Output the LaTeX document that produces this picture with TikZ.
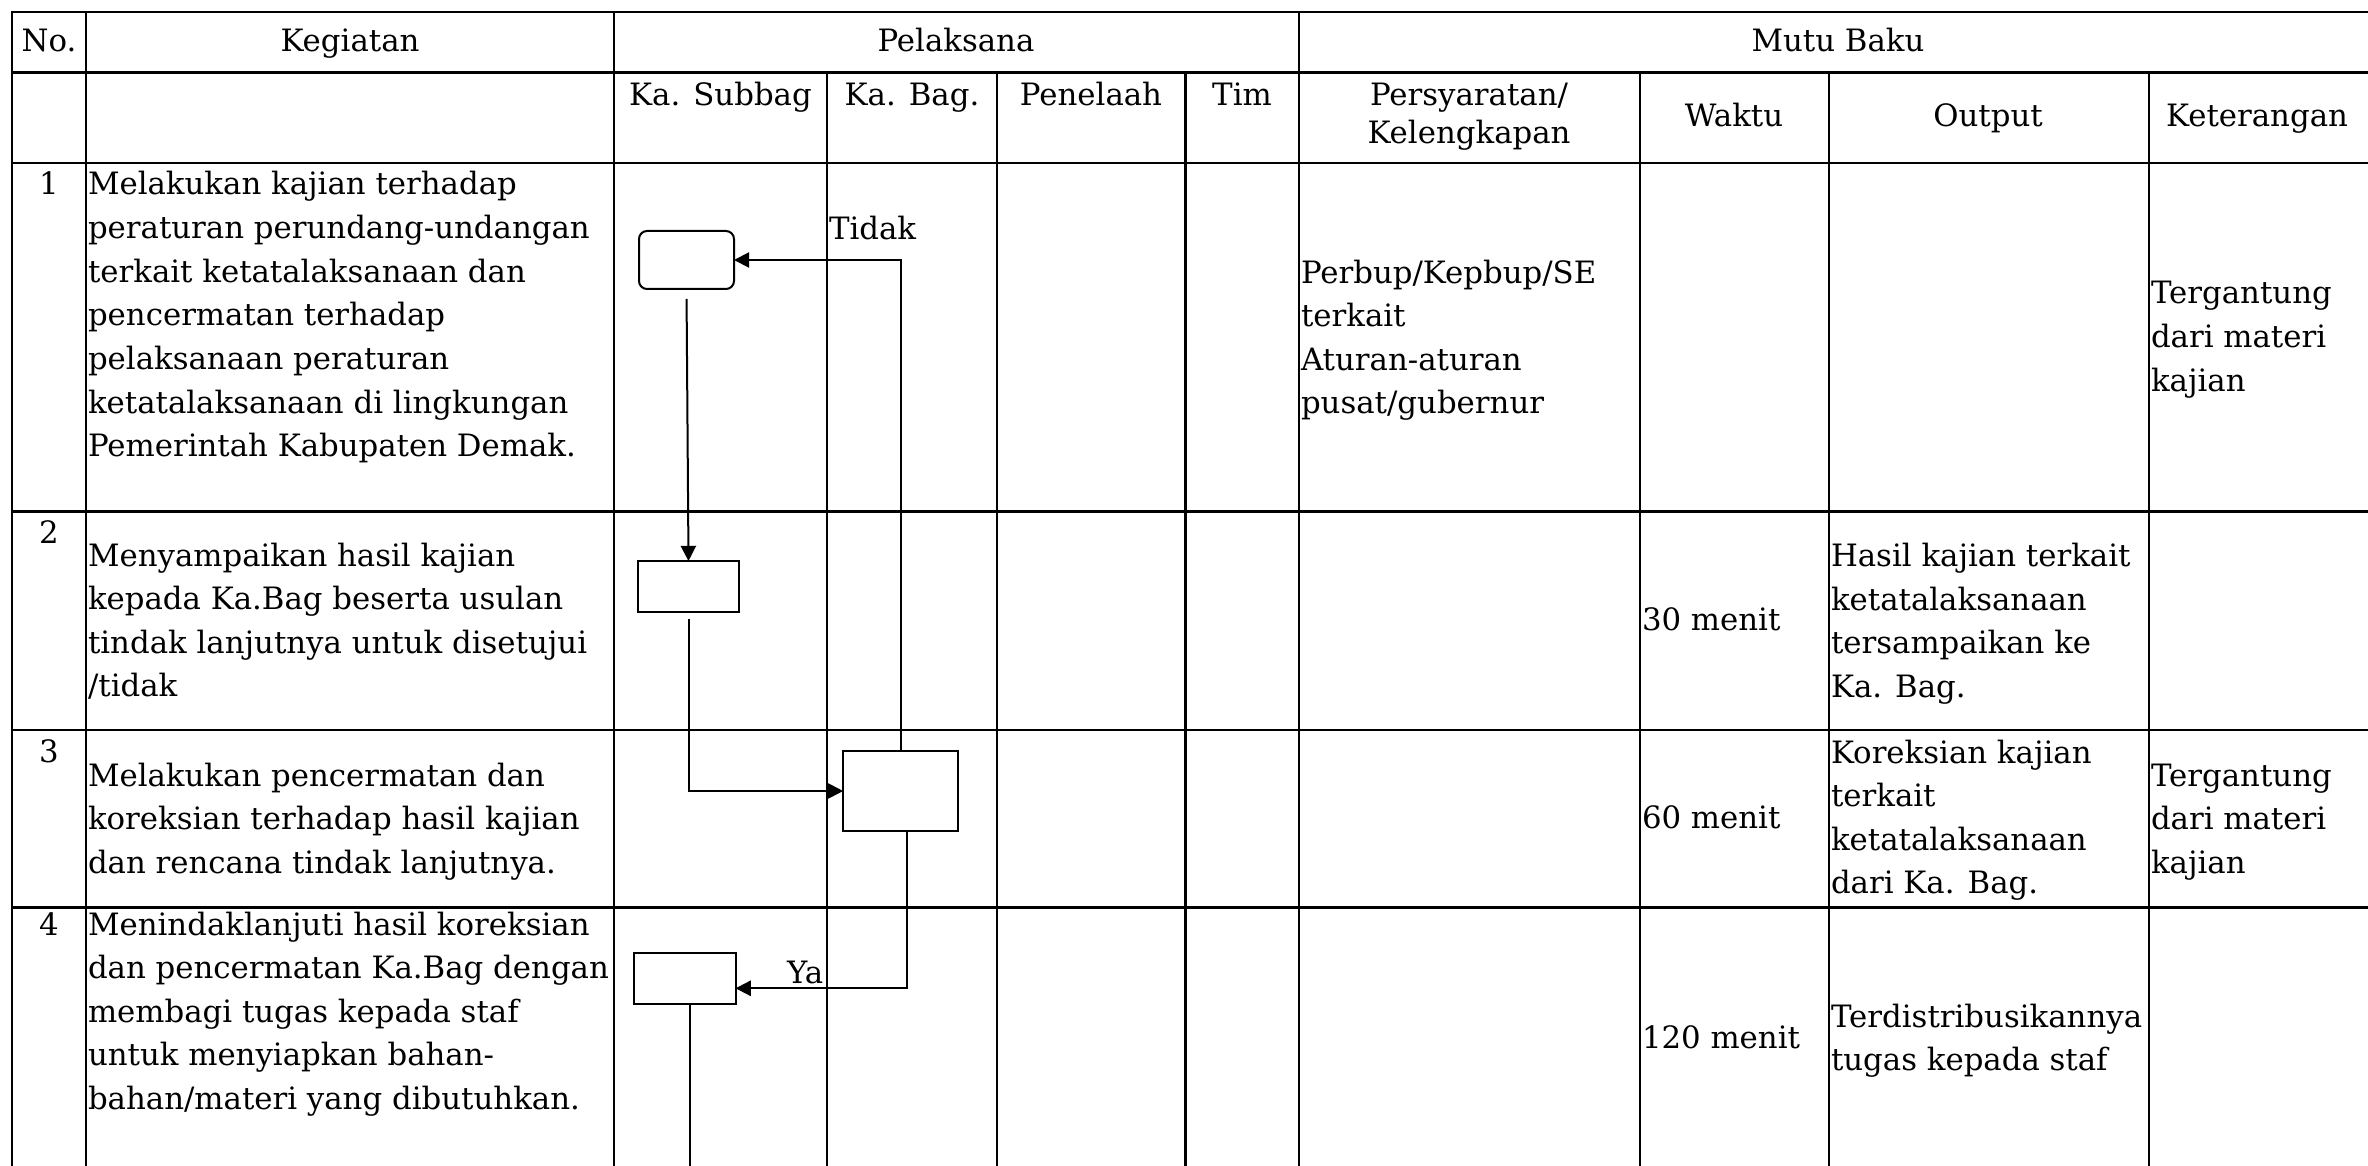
\documentclass[tikz,border=0pt]{standalone}
\usepackage{fontspec}
\setmainfont{DejaVu Serif}
\usetikzlibrary{arrows.meta}
\newcommand\bodyfs{\fontsize{7.7pt}{10.9pt}\selectfont}
\newcommand\headfs{\fontsize{7.7pt}{9.5pt}\selectfont}
\tikzset{
  grid/.style={line width=0.65pt, line cap=rect},
  txt/.style={anchor=base west, inner sep=0pt, outer sep=0pt, align=left, font=\bodyfs},
  hd/.style={anchor=base, inner sep=0pt, outer sep=0pt, align=center, font=\headfs},
  stepbox/.style={draw, line width=0.5pt, inner sep=0pt, outer sep=0pt},
  flow/.style={line width=0.5pt},
  tip/.style={-{Triangle[length=3.8pt,width=3.8pt]}}
}
\begin{document}
\begin{tikzpicture}[x=0.25pt, y=-0.25pt]
\useasboundingbox (0,0) rectangle (2368,1166);
% ---------- table grid ----------
\foreach \yy in {12,72.5,163,511.7,730,907.6}
  \draw[grid] (12,\yy) -- (2368,\yy);
\foreach \xx in {12,86,614,1299}
  \draw[grid] (\xx,12) -- (\xx,1166);
\foreach \xx in {827,997,1185.5,1640,1829,2149}
  \draw[grid] (\xx,72.5) -- (\xx,1166);
% ---------- headers ----------
\node[hd] (hNo) at (49,52) {No.};
\node[hd] (hKeg) at (350,52) {Kegiatan};
\node[hd] (hPel) at (956,52) {Pelaksana};
\node[hd] (hMutu) at (1838,52) {Mutu Baku};
\node[hd] (hSub) at (720.5,106) {Ka. Subbag};
\node[hd] (hBag) at (912,106) {Ka. Bag.};
\node[hd] (hPen) at (1091,106) {Penelaah};
\node[hd] (hTim) at (1242,106) {Tim};
\node[hd] (hPers) at (1469,144) {Persyaratan/\\Kelengkapan};
\node[hd] (hWak) at (1734,127) {Waktu};
\node[hd] (hOut) at (1988,127) {Output};
\node[hd] (hKet) at (2257,127) {Keterangan};
% ---------- numbers ----------
\node[hd, font=\bodyfs] (n1) at (49,195) {1};
\node[hd, font=\bodyfs] (n2) at (49,543) {2};
\node[hd, font=\bodyfs] (n3) at (49,762) {3};
\node[hd, font=\bodyfs] (n4) at (49,935) {4};
% ---------- kegiatan (anchored at the baseline of the last line) ----------
\node[txt] (k1) at (88,456.6) {Melakukan kajian terhadap\\peraturan perundang-undangan\\terkait ketatalaksanaan dan\\pencermatan terhadap\\pelaksanaan peraturan\\ketatalaksanaan di lingkungan\\Pemerintah Kabupaten Demak.};
\node[txt] (k2) at (88,696.8) {Menyampaikan hasil kajian\\kepada Ka.Bag beserta usulan\\tindak lanjutnya untuk disetujui\\/tidak};
\node[txt] (k3) at (88,873.2) {Melakukan pencermatan dan\\koreksian terhadap hasil kajian\\dan rencana tindak lanjutnya.};
\node[txt] (k4) at (88,1109.4) {Menindaklanjuti hasil koreksian\\dan pencermatan Ka.Bag dengan\\membagi tugas kepada staf\\untuk menyiapkan bahan-\\bahan/materi yang dibutuhkan.};
% ---------- mutu baku ----------
\node[txt] (p1) at (1301,413.8) {Perbup/Kepbup/SE\\terkait\\Aturan-aturan\\pusat/gubernur};
\node[txt] (ket1) at (2151,391.2) {Tergantung\\dari materi\\kajian};
\node[txt] (w2) at (1642,630) {30 menit};
\node[txt] (o2) at (1831,697.3) {Hasil kajian terkait\\ketatalaksanaan\\tersampaikan ke\\Ka. Bag.};
\node[txt] (w3) at (1642,828) {60 menit};
\node[txt] (o3) at (1831,893.8) {Koreksian kajian\\terkait\\ketatalaksanaan\\dari Ka. Bag.};
\node[txt] (ket3) at (2151,873.2) {Tergantung\\dari materi\\kajian};
\node[txt] (w4) at (1642,1048) {120 menit};
\node[txt] (o4) at (1831,1070.6) {Terdistribusikannya\\tugas kepada staf};
% ---------- flowchart ----------
\node[stepbox, rounded corners=2pt, minimum width=23.75pt, minimum height=14.5pt] (A) at (686.5,260) {};
\node[stepbox, minimum width=25.25pt, minimum height=12.75pt] (B) at (688.5,586.5) {};
\node[stepbox, minimum width=28.65pt, minimum height=20pt] (C) at (900.5,791) {};
\node[stepbox, minimum width=25.4pt, minimum height=12.6pt] (D) at (684.75,978.3) {};
\coordinate (cOut) at (906.5,831);
\coordinate (dEnd) at (690,1166);
\draw[flow, tip] (C.north) |- (A.east);
\draw[flow, tip, shorten <=2.5pt] (A.south) -- (B.north);
\draw[flow, tip, shorten <=1.75pt] (B.south) |- (C.west);
\draw[flow, tip] (C.south -| cOut) |- ([yshift=-2.5pt]D.east);
\draw[flow] (D.south -| dEnd) -- (dEnd);
\node[txt] (lTidak) at (829,239) {Tidak};
\node[txt] (lYa) at (787,983) {Ya};
\end{tikzpicture}
\end{document}
